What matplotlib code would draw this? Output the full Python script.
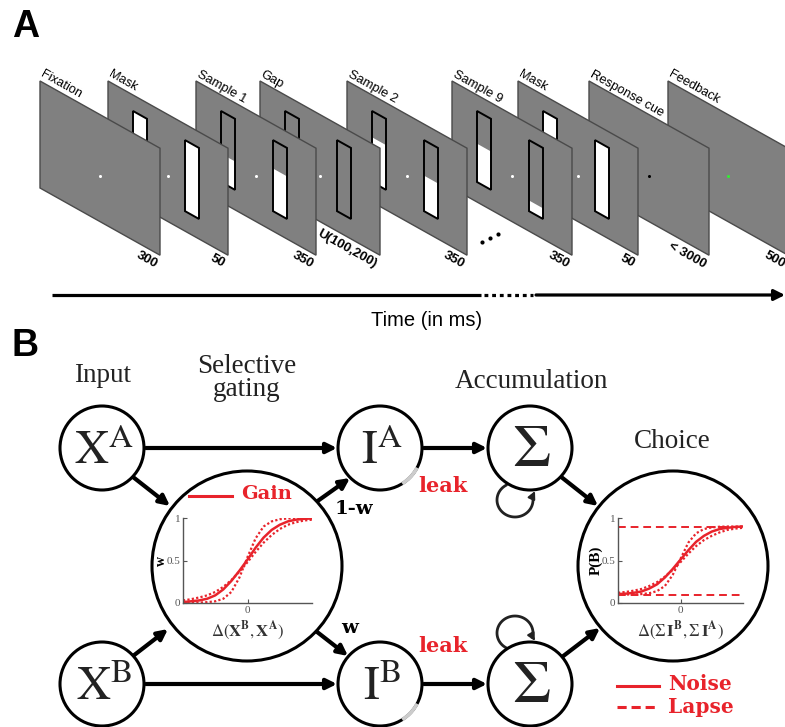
import numpy as np
import matplotlib.pyplot as plt
from matplotlib.patches import Polygon, Circle, Arc

W, H = 785, 727
RED = '#e8232b'
SANS = 'Liberation Sans'
SERIF = 'Liberation Serif'
BSERIF = 'DejaVu Serif'
plt.rcParams['mathtext.fontset'] = 'stix'

# ---- panel A: trial sequence ----
stage_names = ['Fixation', 'Mask', 'Sample 1', 'Gap', 'Sample 2',
               'Sample 9', 'Mask', 'Response cue', 'Feedback']
stage_durations = ['300', '50', '350', 'U(100,200)', '350',
                   '350', '50', '< 3000', '500']
# white level in the left / right bar (None = no bars shown)
bar_left = [None, 1.0, 0.40, 0.0, 0.63, 0.54, 1.0, None, None]
bar_right = [None, 1.0, 0.60, 0.0, 0.50, 0.15, 1.0, None, None]
dot_colors = ['white'] * 7 + ['black', '#33ee33']

# ---- panel B: transfer functions ----
delta = [-1, -0.875, -0.75, -0.625, -0.5, -0.375, -0.25, -0.125, 0,
         0.125, 0.25, 0.375, 0.5, 0.625, 0.75, 0.875, 1]
gate_mid = [0.01, 0.02, 0.03, 0.05, 0.09, 0.16, 0.26, 0.38, 0.51,
            0.65, 0.77, 0.86, 0.92, 0.96, 0.98, 0.99, 0.995]
gate_steep = [0.0, 0.0, 0.005, 0.01, 0.02, 0.05, 0.13, 0.30, 0.54,
              0.76, 0.90, 0.96, 0.985, 0.995, 1.0, 1.0, 1.0]
gate_flat = [0.03, 0.045, 0.065, 0.09, 0.13, 0.19, 0.27, 0.37, 0.48,
             0.60, 0.71, 0.80, 0.87, 0.92, 0.95, 0.97, 0.98]
choice_mid = [0.105, 0.11, 0.12, 0.135, 0.17, 0.22, 0.30, 0.40, 0.51,
              0.62, 0.72, 0.79, 0.84, 0.87, 0.885, 0.895, 0.9]
choice_steep = [0.1, 0.1, 0.1, 0.105, 0.115, 0.14, 0.20, 0.33, 0.52,
                0.71, 0.82, 0.87, 0.89, 0.897, 0.9, 0.9, 0.9]
choice_flat = [0.12, 0.13, 0.145, 0.165, 0.2, 0.245, 0.31, 0.39, 0.48,
               0.58, 0.67, 0.74, 0.79, 0.83, 0.86, 0.875, 0.885]
lapse_low, lapse_high = 0.1, 0.9

fig = plt.figure(figsize=(W / 100, H / 100), dpi=100)
ax = fig.add_axes([0, 0, 1, 1])
ax.set_xlim(0, W)
ax.set_ylim(H, 0)
ax.axis('off')

# panel geometry (pixels)
panel_x = [40, 108, 196, 260, 347, 452, 518, 589, 668]
PTOP, PW, PH, SLOPE = 81, 120, 107, 0.56


def pt(x0, u, v):
    return (x0 + u, PTOP + v + SLOPE * u)


def quad(x0, u0, u1, v0, v1):
    return [pt(x0, u0, v0), pt(x0, u1, v0), pt(x0, u1, v1), pt(x0, u0, v1)]


ang = -np.degrees(np.arctan(SLOPE))
for i, x0 in enumerate(panel_x):
    z = 40 - 3 * i
    ax.add_patch(Polygon(quad(x0, 0, PW, 0, PH), closed=True, fc='#808080',
                         ec='#4a4a4a', lw=1.0, zorder=z))
    for u0, lev in ((25, bar_left[i]), (77, bar_right[i])):
        if lev is None:
            continue
        ax.add_patch(Polygon(quad(x0, u0, u0 + 14, 16, 87), closed=True,
                             fc='#808080', ec='none', zorder=z + 0.5))
        if lev > 0:
            ax.add_patch(Polygon(quad(x0, u0, u0 + 14, 87 - 71 * lev, 87),
                                 closed=True, fc='white', ec='none', zorder=z + 0.6))
        ax.add_patch(Polygon(quad(x0, u0, u0 + 14, 16, 87), closed=True,
                             fc='none', ec='black', lw=1.4, zorder=z + 0.7))
    dx, dy = pt(x0, 60, 61)
    ax.plot(dx, dy, 'o', ms=2.2, color=dot_colors[i], mec='none', zorder=z + 0.8)
    tx, ty = pt(x0, 0, -5)
    ax.text(tx, ty, stage_names[i], rotation=ang, rotation_mode='anchor',
            ha='left', va='baseline', fontsize=9.3, family=SANS, zorder=50)
    rx, ry = pt(x0, PW - 1, PH + 5)
    ax.text(rx, ry, stage_durations[i], rotation=ang, rotation_mode='anchor',
            ha='right', va='top', fontsize=9.5, fontweight='bold', family=SANS, zorder=50)

# ellipsis between sample 2 and sample 9
ax.plot([482, 490, 498], [242, 238, 234], 'o', ms=3, color='black', mec='none')

# time axis
ax.plot([52, 481], [295, 295], color='black', lw=2.3, solid_capstyle='butt')
ax.plot([484, 533], [295, 295], color='black', lw=2.3, ls=(0, (1.2, 1.2)))
ax.annotate('', xy=(785, 295), xytext=(536, 295),
            arrowprops=dict(arrowstyle='-|>', lw=2.3, color='black',
                            mutation_scale=16, shrinkA=0, shrinkB=0))
ax.text(427, 321, 'Time (in ms)', ha='center', va='center', fontsize=14.5, family=SANS)

ax.text(12, 27, 'A', fontsize=27, fontweight='bold', family=SANS, va='center', ha='left')
ax.text(12, 346, 'B', fontsize=27, fontweight='bold', family=SANS, va='center', ha='left')

# ---- panel B: network ----
nodes = {'XA': (102, 448), 'XB': (102, 684), 'IA': (380, 448), 'IB': (380, 684),
         'SA': (530, 448), 'SB': (530, 684)}
R = 42
for (cx, cy) in nodes.values():
    ax.add_patch(Circle((cx, cy), R, fc='white', ec='black', lw=2.2, zorder=5))
gate_c, choice_c, RB = (247, 566), (673, 566), 95
for c in (gate_c, choice_c):
    ax.add_patch(Circle(c, RB, fc='white', ec='black', lw=2.2, zorder=5))

# leak segments
for key in ('IA', 'IB'):
    ax.add_patch(Arc(nodes[key], 2 * R, 2 * R, theta1=28, theta2=58,
                     color='#cccccc', lw=2.6, zorder=6))

node_text = {'XA': r'$\mathrm{X}^{\mathrm{A}}$', 'XB': r'$\mathrm{X}^{\mathrm{B}}$',
             'IA': r'$\mathrm{I}^{\mathrm{A}}$', 'IB': r'$\mathrm{I}^{\mathrm{B}}$'}
for key, lab in node_text.items():
    cx, cy = nodes[key]
    ax.text(cx + 2, cy + 3, lab, ha='center', va='center',
            fontsize=34, color='#222222', zorder=7)
for key in ('SA', 'SB'):
    cx, cy = nodes[key]
    ax.text(cx + 1, cy + 1, r'$\Sigma$', ha='center', va='center',
            fontsize=44, color='#222222', zorder=7)

for txt, x, y in (('Input', 103, 376), ('Selective\ngating', 247, 378),
                  ('Accumulation', 531, 382), ('Choice', 672, 442)):
    ax.text(x, y, txt, ha='center', va='center', fontsize=19.5, family=SERIF,
            color='#222222', linespacing=0.9)

arrows = [((146, 448), (337, 448)), ((424, 448), (487, 448)),
          ((146, 684), (337, 684)), ((424, 684), (487, 684)),
          ((133, 477), (170, 506)), ((133, 656), (168, 629)),
          ((312, 505), (350, 478)), ((312, 628), (348, 656)),
          ((560, 476), (598, 506)), ((562, 657), (600, 628))]
for a, b in arrows:
    ax.annotate('', xy=b, xytext=a,
                arrowprops=dict(arrowstyle='-|>', lw=3, color='black',
                                mutation_scale=15, shrinkA=0, shrinkB=0), zorder=4)

# recurrent loops on accumulators
t = np.radians(np.linspace(120, 375, 60))
lx, ly = 515 + 18 * np.cos(t), 500 - 17 * np.sin(t)
ax.plot(lx, ly, color='#222222', lw=2, zorder=4)
ax.annotate('', xy=(535, 491), xytext=(lx[-1], ly[-1] + 1),
            arrowprops=dict(arrowstyle='-|>', lw=1.5, color='#222222',
                            mutation_scale=11, shrinkA=0, shrinkB=0), zorder=8)
t2 = np.radians(np.linspace(240, -15, 60))
lx2, ly2 = 515 + 18 * np.cos(t2), 633 - 17 * np.sin(t2)
ax.plot(lx2, ly2, color='#222222', lw=2, zorder=4)
ax.annotate('', xy=(535, 641), xytext=(lx2[-1], ly2[-1] - 1),
            arrowprops=dict(arrowstyle='-|>', lw=1.5, color='#222222',
                            mutation_scale=11, shrinkA=0, shrinkB=0), zorder=8)

ax.text(354, 509, '1-w', ha='center', va='center', fontsize=14, fontweight='bold', family=BSERIF)
ax.text(350, 628, 'w', ha='center', va='center', fontsize=14, fontweight='bold', family=BSERIF)
for y in (486, 646):
    ax.text(443, y, 'leak', ha='center', va='center', fontsize=15, fontweight='bold',
            family=BSERIF, color=RED)

# legends
ax.plot([189, 232], [496, 496], color=RED, lw=2.2, zorder=8)
ax.text(241, 494, 'Gain', ha='left', va='center', fontsize=14, fontweight='bold',
        family=BSERIF, color=RED, zorder=8)
ax.plot([617, 659], [686, 686], color=RED, lw=2.2)
ax.text(668, 684, 'Noise', ha='left', va='center', fontsize=14.5, fontweight='bold',
        family=BSERIF, color=RED)
ax.plot([617, 659], [707, 707], color=RED, lw=2.2, ls=(0, (3, 1.6)))
ax.text(668, 707, 'Lapse', ha='left', va='center', fontsize=14.5, fontweight='bold',
        family=BSERIF, color=RED)


def inset(x0, y0, x1, y1):
    a = fig.add_axes([x0 / W, 1 - y1 / H, (x1 - x0) / W, (y1 - y0) / H])
    a.set_xlim(-1, 1)
    a.set_ylim(0, 1)
    a.set_facecolor('none')
    for s in ('top', 'right'):
        a.spines[s].set_visible(False)
    for s in ('left', 'bottom'):
        a.spines[s].set_color('#555555')
        a.spines[s].set_linewidth(1.0)
    a.set_xticks([0])
    a.set_yticks([0, 0.5, 1])
    a.set_yticklabels(['0', '0.5', '1'])
    a.tick_params(direction='in', length=3, width=0.8, colors='#555555',
                  labelsize=8, pad=2)
    for lab in a.get_xticklabels() + a.get_yticklabels():
        lab.set_family(SERIF)
    return a


g = inset(183, 518, 312, 603)
g.plot(delta, gate_mid, color=RED, lw=1.8)
g.plot(delta, gate_steep, color=RED, lw=1.6, ls=(0, (1, 1)))
g.plot(delta, gate_flat, color=RED, lw=1.6, ls=(0, (1, 1)))
g.set_ylabel('w', fontsize=10, fontweight='bold', family=SERIF, labelpad=-1)
g.set_xlabel(r'$\Delta(\mathbf{X}^{\mathbf{B}},\mathbf{X}^{\mathbf{A}})$',
             fontsize=12, color='#333333', labelpad=3)

c = inset(618, 518, 743, 603)
c.plot(delta, choice_mid, color=RED, lw=1.8)
c.plot(delta, choice_steep, color=RED, lw=1.6, ls=(0, (1, 1)))
c.plot(delta, choice_flat, color=RED, lw=1.6, ls=(0, (1, 1)))
c.axhline(lapse_low, color=RED, lw=1.4, ls=(0, (4, 2.5)))
c.axhline(lapse_high, color=RED, lw=1.4, ls=(0, (4, 2.5)))
c.set_ylabel('P(B)', fontsize=11, fontweight='bold', family=SERIF, labelpad=-1)
c.set_xlabel(r'$\Delta(\Sigma\,\mathbf{I}^{\mathbf{B}},\Sigma\,\mathbf{I}^{\mathbf{A}})$',
             fontsize=12, color='#333333', labelpad=3)

fig.savefig('out.png', dpi=100)
